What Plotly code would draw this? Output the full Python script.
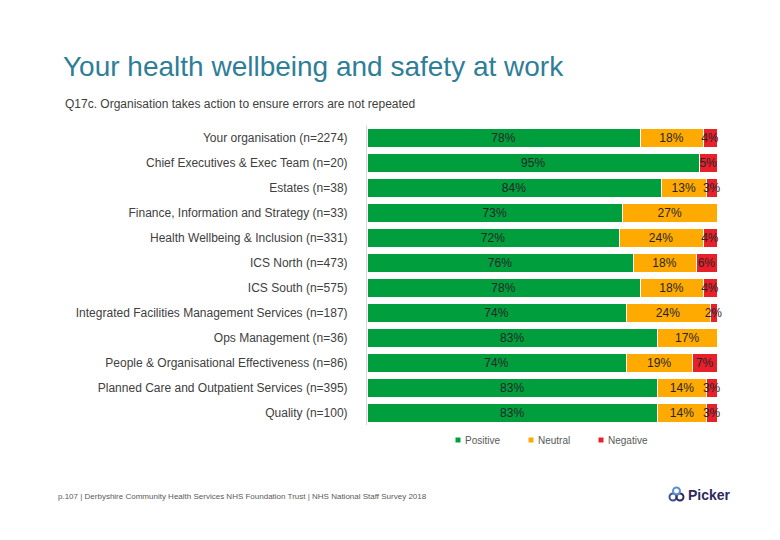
import plotly.graph_objects as go

categories = [
    "Your organisation (n=2274)",
    "Chief Executives & Exec Team (n=20)",
    "Estates (n=38)",
    "Finance, Information and Strategy (n=33)",
    "Health Wellbeing & Inclusion (n=331)",
    "ICS North (n=473)",
    "ICS South (n=575)",
    "Integrated Facilities Management Services (n=187)",
    "Ops Management (n=36)",
    "People & Organisational Effectiveness (n=86)",
    "Planned Care and Outpatient Services (n=395)",
    "Quality (n=100)",
]
positive = [78, 95, 84, 73, 72, 76, 78, 74, 83, 74, 83, 83]
neutral = [18, 0, 13, 27, 24, 18, 18, 24, 17, 19, 14, 14]
negative = [4, 5, 3, 0, 4, 6, 4, 2, 0, 7, 3, 3]
series_names = ["Positive", "Neutral", "Negative"]
series_colors = ["#009E3D", "#FFAA00", "#E8202A"]
series_values = [positive, neutral, negative]

OFF = 8  # page body margin
PL, PR, PT, PB = 367 - OFF, 717 - OFF, 125 - OFF, 425 - OFF


def px2paper(px, py):
    px -= OFF
    py -= OFF
    return (px - PL) / (PR - PL), (PB - py) / (PB - PT)


FONT = "Liberation Sans, Arial, sans-serif"

fig = go.Figure()
for name, vals, color in zip(series_names, series_values, series_colors):
    fig.add_trace(go.Bar(
        y=categories, x=vals, orientation="h", name=name,
        marker=dict(color=color, line=dict(color="white", width=1)),
        text=[f"{v}%" if v > 0 else "" for v in vals],
        textposition="inside", insidetextanchor="middle", textangle=0,
        constraintext="none", cliponaxis=False,
        textfont=dict(family=FONT, size=12, color="#262626"),
        width=0.76, showlegend=False, hoverinfo="skip",
    ))

fig.update_layout(
    barmode="stack",
    width=780, height=540,
    margin=dict(l=PL, r=780 - PR, t=PT, b=540 - PB),
    paper_bgcolor="white", plot_bgcolor="white",
    uniformtext=dict(minsize=12, mode="show"),
    font=dict(family=FONT, color="#404040"),
    title=dict(
        text="Your health wellbeing and safety at work",
        x=(63 - OFF) / 780, xanchor="left", xref="container",
        y=1 - (66 - OFF) / 540, yanchor="middle", yref="container",
        font=dict(size=28, color="#2E7E98", family=FONT),
    ),
    xaxis=dict(range=[0, 100], visible=False, fixedrange=True),
    yaxis=dict(
        autorange="reversed", showgrid=False, zeroline=False,
        showline=True, linecolor="#D9D9D9", linewidth=1,
        ticks="", ticklabelstandoff=16,
        tickfont=dict(size=12, color="#404040"),
    ),
    showlegend=False,
)

# subtitle
x, y = px2paper(63, 104)
fig.add_annotation(
    text="Q17c. Organisation takes action to ensure errors are not repeated",
    xref="paper", yref="paper", x=x, y=y, xanchor="left", yanchor="middle",
    showarrow=False, font=dict(size=12, color="#404040"),
)

# legend (manual)
legend_marker_px = [458, 531, 601]
for name, color, mx in zip(series_names, series_colors, legend_marker_px):
    x0, y0 = px2paper(mx - 2.5, 442.5)
    x1, y1 = px2paper(mx + 2.5, 437.5)
    fig.add_shape(type="rect", xref="paper", yref="paper",
                  x0=x0, y0=y0, x1=x1, y1=y1,
                  fillcolor=color, line=dict(width=0))
    tx, ty = px2paper(mx + 5, 440)
    fig.add_annotation(text=name, xref="paper", yref="paper", x=tx, y=ty,
                       xanchor="left", yanchor="middle", showarrow=False,
                       font=dict(size=10, color="#595959"))

# footer
x, y = px2paper(56, 496)
fig.add_annotation(
    text="p.107 | Derbyshire Community Health Services NHS Foundation Trust | NHS National Staff Survey 2018",
    xref="paper", yref="paper", x=x, y=y, xanchor="left", yanchor="middle",
    showarrow=False, font=dict(size=8, color="#595959"),
)

# Picker logo
x, y = px2paper(686, 495)
fig.add_annotation(
    text="<b>Picker</b>", xref="paper", yref="paper", x=x, y=y,
    xanchor="left", yanchor="middle", showarrow=False,
    font=dict(size=14, color="#2D2A5E"),
)
for cx, cy, col in [(673, 497, "#3F4FA0"), (680, 497, "#2D2A5E"), (676.5, 491, "#5B8FD0")]:
    x0, y0 = px2paper(cx - 3.5, cy + 3.5)
    x1, y1 = px2paper(cx + 3.5, cy - 3.5)
    fig.add_shape(type="circle", xref="paper", yref="paper",
                  x0=x0, y0=y0, x1=x1, y1=y1, line=dict(color=col, width=2))

fig.write_html("out.html")
